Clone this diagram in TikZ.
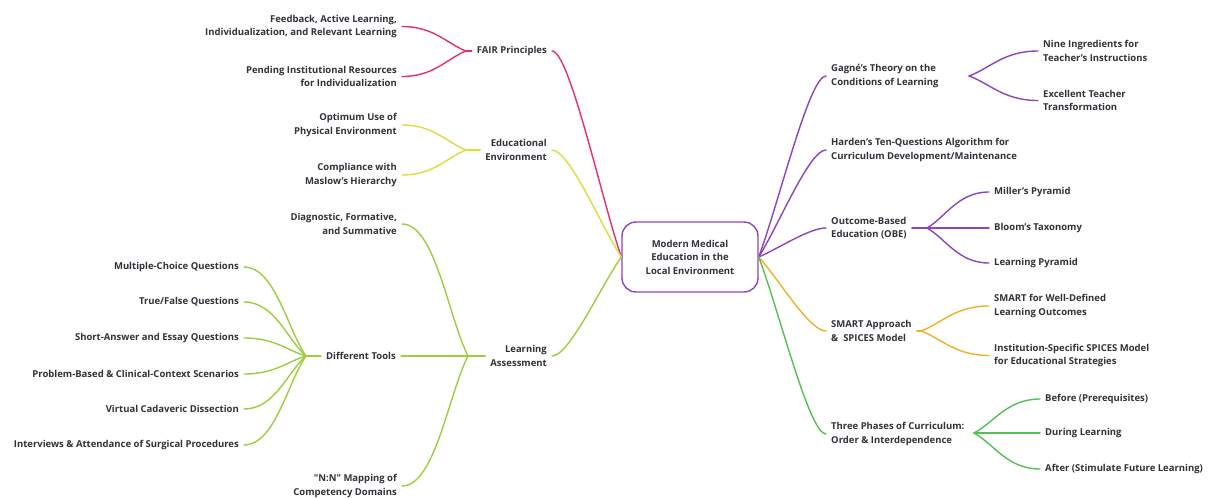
\documentclass[tikz,border=0pt]{standalone}
\usepackage{fontspec}
\setmainfont{Open Sans}[Ligatures=TeXOff]
\usetikzlibrary{calc}
\definecolor{txt}{RGB}{50,50,58}
\definecolor{cPink}{RGB}{228,48,112}
\definecolor{cYellow}{RGB}{222,220,60}
\definecolor{cLime}{RGB}{158,206,62}
\definecolor{cPurple}{RGB}{142,68,190}
\definecolor{cOrange}{RGB}{240,176,40}
\definecolor{cGreen}{RGB}{86,192,86}
\tikzset{
  lbl/.style={font=\bfseries\fontsize{9.5}{13.5}\selectfont, text=txt, inner xsep=5pt, inner ysep=1pt},
  lft/.style={lbl, anchor=east, align=right},
  rgt/.style={lbl, anchor=west, align=left},
  link/.style={line width=1.4pt, line cap=round},
}
% twig: parent branch point -> child label, leaving the child horizontally
\newcommand\twig[3]{\draw[link,#1] (#2) .. controls ($(#2)!0.3!(#3)$) and ($(#3)!0.5!(#3 -| #2)$) .. (#3);}
% trunk: central topic -> main topic
\newcommand\trunk[3]{\draw[link,#1] (#2) .. controls ($(#2)!0.3!(#3)$) and ($(#3)!0.25!(#3 -| #2)$) .. (#3);}
\begin{document}
\begin{tikzpicture}[x=1pt,y=-1pt]
\useasboundingbox[fill=white] (0,0) rectangle (1211,498);

% central topic
\node[lbl, draw=cPurple, line width=1.4pt, rounded corners=14pt, fill=white,
      minimum width=136pt, minimum height=70pt, align=center] (core) at (690,257)
  {Modern Medical\\Education in the\\Local Environment};

% ---------- left side ----------
\node[lft] (fair) at (552,51) {FAIR Principles};
\node[lft] (edu)  at (552,150) {Educational\\Environment};
\node[lft] (la)   at (552,356) {Learning\\Assessment};

\node[lft] (fb)   at (402,26.5) {Feedback, Active Learning,\\Individualization, and Relevant Learning};
\node[lft] (pir)  at (402,76.5) {Pending Institutional Resources\\for Individualization};
\node[lft] (opt)  at (402,125) {Optimum Use of\\Physical Environment};
\node[lft] (mas)  at (402,175) {Compliance with\\Maslow’s Hierarchy};
\node[lft] (diag) at (402,224) {Diagnostic, Formative,\\and Summative};
\node[lft] (tools) at (401,356) {Different Tools};
\node[lft] (nn)   at (402,486) {"N:N" Mapping of\\Competency Domains};

\node[lft] (mcq) at (244,267) {Multiple-Choice Questions};
\node[lft] (tf)  at (244,302) {True/False Questions};
\node[lft] (sa)  at (244,338) {Short-Answer and Essay Questions};
\node[lft] (pb)  at (244,374) {Problem-Based \& Clinical-Context Scenarios};
\node[lft] (vc)  at (244,409) {Virtual Cadaveric Dissection};
\node[lft] (iv)  at (244,445) {Interviews \& Attendance of Surgical Procedures};

\coordinate (bFair)  at (466,51);
\coordinate (bEdu)   at (466,150);
\coordinate (bLA)    at (468,356);
\coordinate (bTools) at (306,356);

\trunk{cPink}{core.west}{fair.east}
\trunk{cYellow}{core.west}{edu.east}
\trunk{cLime}{core.west}{la.east}

\twig{cPink}{bFair}{fb.east}
\twig{cPink}{bFair}{pir.east}
\draw[link,cPink] (bFair) -- (fair.west);
\twig{cYellow}{bEdu}{opt.east}
\twig{cYellow}{bEdu}{mas.east}
\draw[link,cYellow] (bEdu) -- (edu.west);
\twig{cLime}{bLA}{diag.east}
\twig{cLime}{bLA}{nn.east}
\draw[link,cLime] (bLA) -- (tools.east);
\draw[link,cLime] (bLA) -- (la.west);
\foreach \k in {mcq,tf,sa,pb,vc,iv} {\twig{cLime}{bTools}{\k.east}}
\draw[link,cLime] (bTools) -- (tools.west);

% ---------- right side ----------
\node[rgt] (gag)   at (826,76)  {Gagné’s Theory on the\\Conditions of Learning};
\node[rgt] (har)   at (826,150) {Harden’s Ten-Questions Algorithm for\\Curriculum Development/Maintenance};
\node[rgt] (obe)   at (826,228) {Outcome-Based\\Education (OBE)};
\node[rgt] (smart) at (826,331) {SMART Approach\\\&~~SPICES Model};
\node[rgt] (three) at (826,434) {Three Phases of Curriculum:\\Order \& Interdependence};

\node[rgt] (nine) at (1038,51)    {Nine Ingredients for\\Teacher’s Instructions};
\node[rgt] (exc)  at (1038,100.5) {Excellent Teacher\\Transformation};
\node[rgt] (mil)  at (989,192) {Miller’s Pyramid};
\node[rgt] (blo)  at (989,228) {Bloom’s Taxonomy};
\node[rgt] (lp)   at (989,263) {Learning Pyramid};
\node[rgt] (sw)   at (989,306) {SMART for Well-Defined\\Learning Outcomes};
\node[rgt] (inst) at (989,355.5) {Institution-Specific SPICES Model\\for Educational Strategies};
\node[rgt] (bef)  at (1040,399) {Before (Prerequisites)};
\node[rgt] (dur)  at (1040,433) {During Learning};
\node[rgt] (aft)  at (1040,469) {After (Stimulate Future Learning)};

\coordinate (bGag)   at (969,76);
\coordinate (bObe)   at (927,228);
\coordinate (bSmart) at (921,331);
\coordinate (bThree) at (974,433);

\trunk{cPurple}{core.east}{gag.west}
\trunk{cPurple}{core.east}{har.west}
\trunk{cPurple}{core.east}{obe.west}
\trunk{cOrange}{core.east}{smart.west}
\trunk{cGreen}{core.east}{three.west}

\twig{cPurple}{bGag}{nine.west}
\twig{cPurple}{bGag}{exc.west}
\twig{cPurple}{bObe}{mil.west}
\twig{cPurple}{bObe}{blo.west}
\twig{cPurple}{bObe}{lp.west}
\draw[link,cPurple] (bObe) -- (obe.east);
\twig{cOrange}{bSmart}{sw.west}
\twig{cOrange}{bSmart}{inst.west}
\draw[link,cOrange] (bSmart) -- (smart.east);
\twig{cGreen}{bThree}{bef.west}
\twig{cGreen}{bThree}{dur.west}
\twig{cGreen}{bThree}{aft.west}
\end{tikzpicture}
\end{document}
